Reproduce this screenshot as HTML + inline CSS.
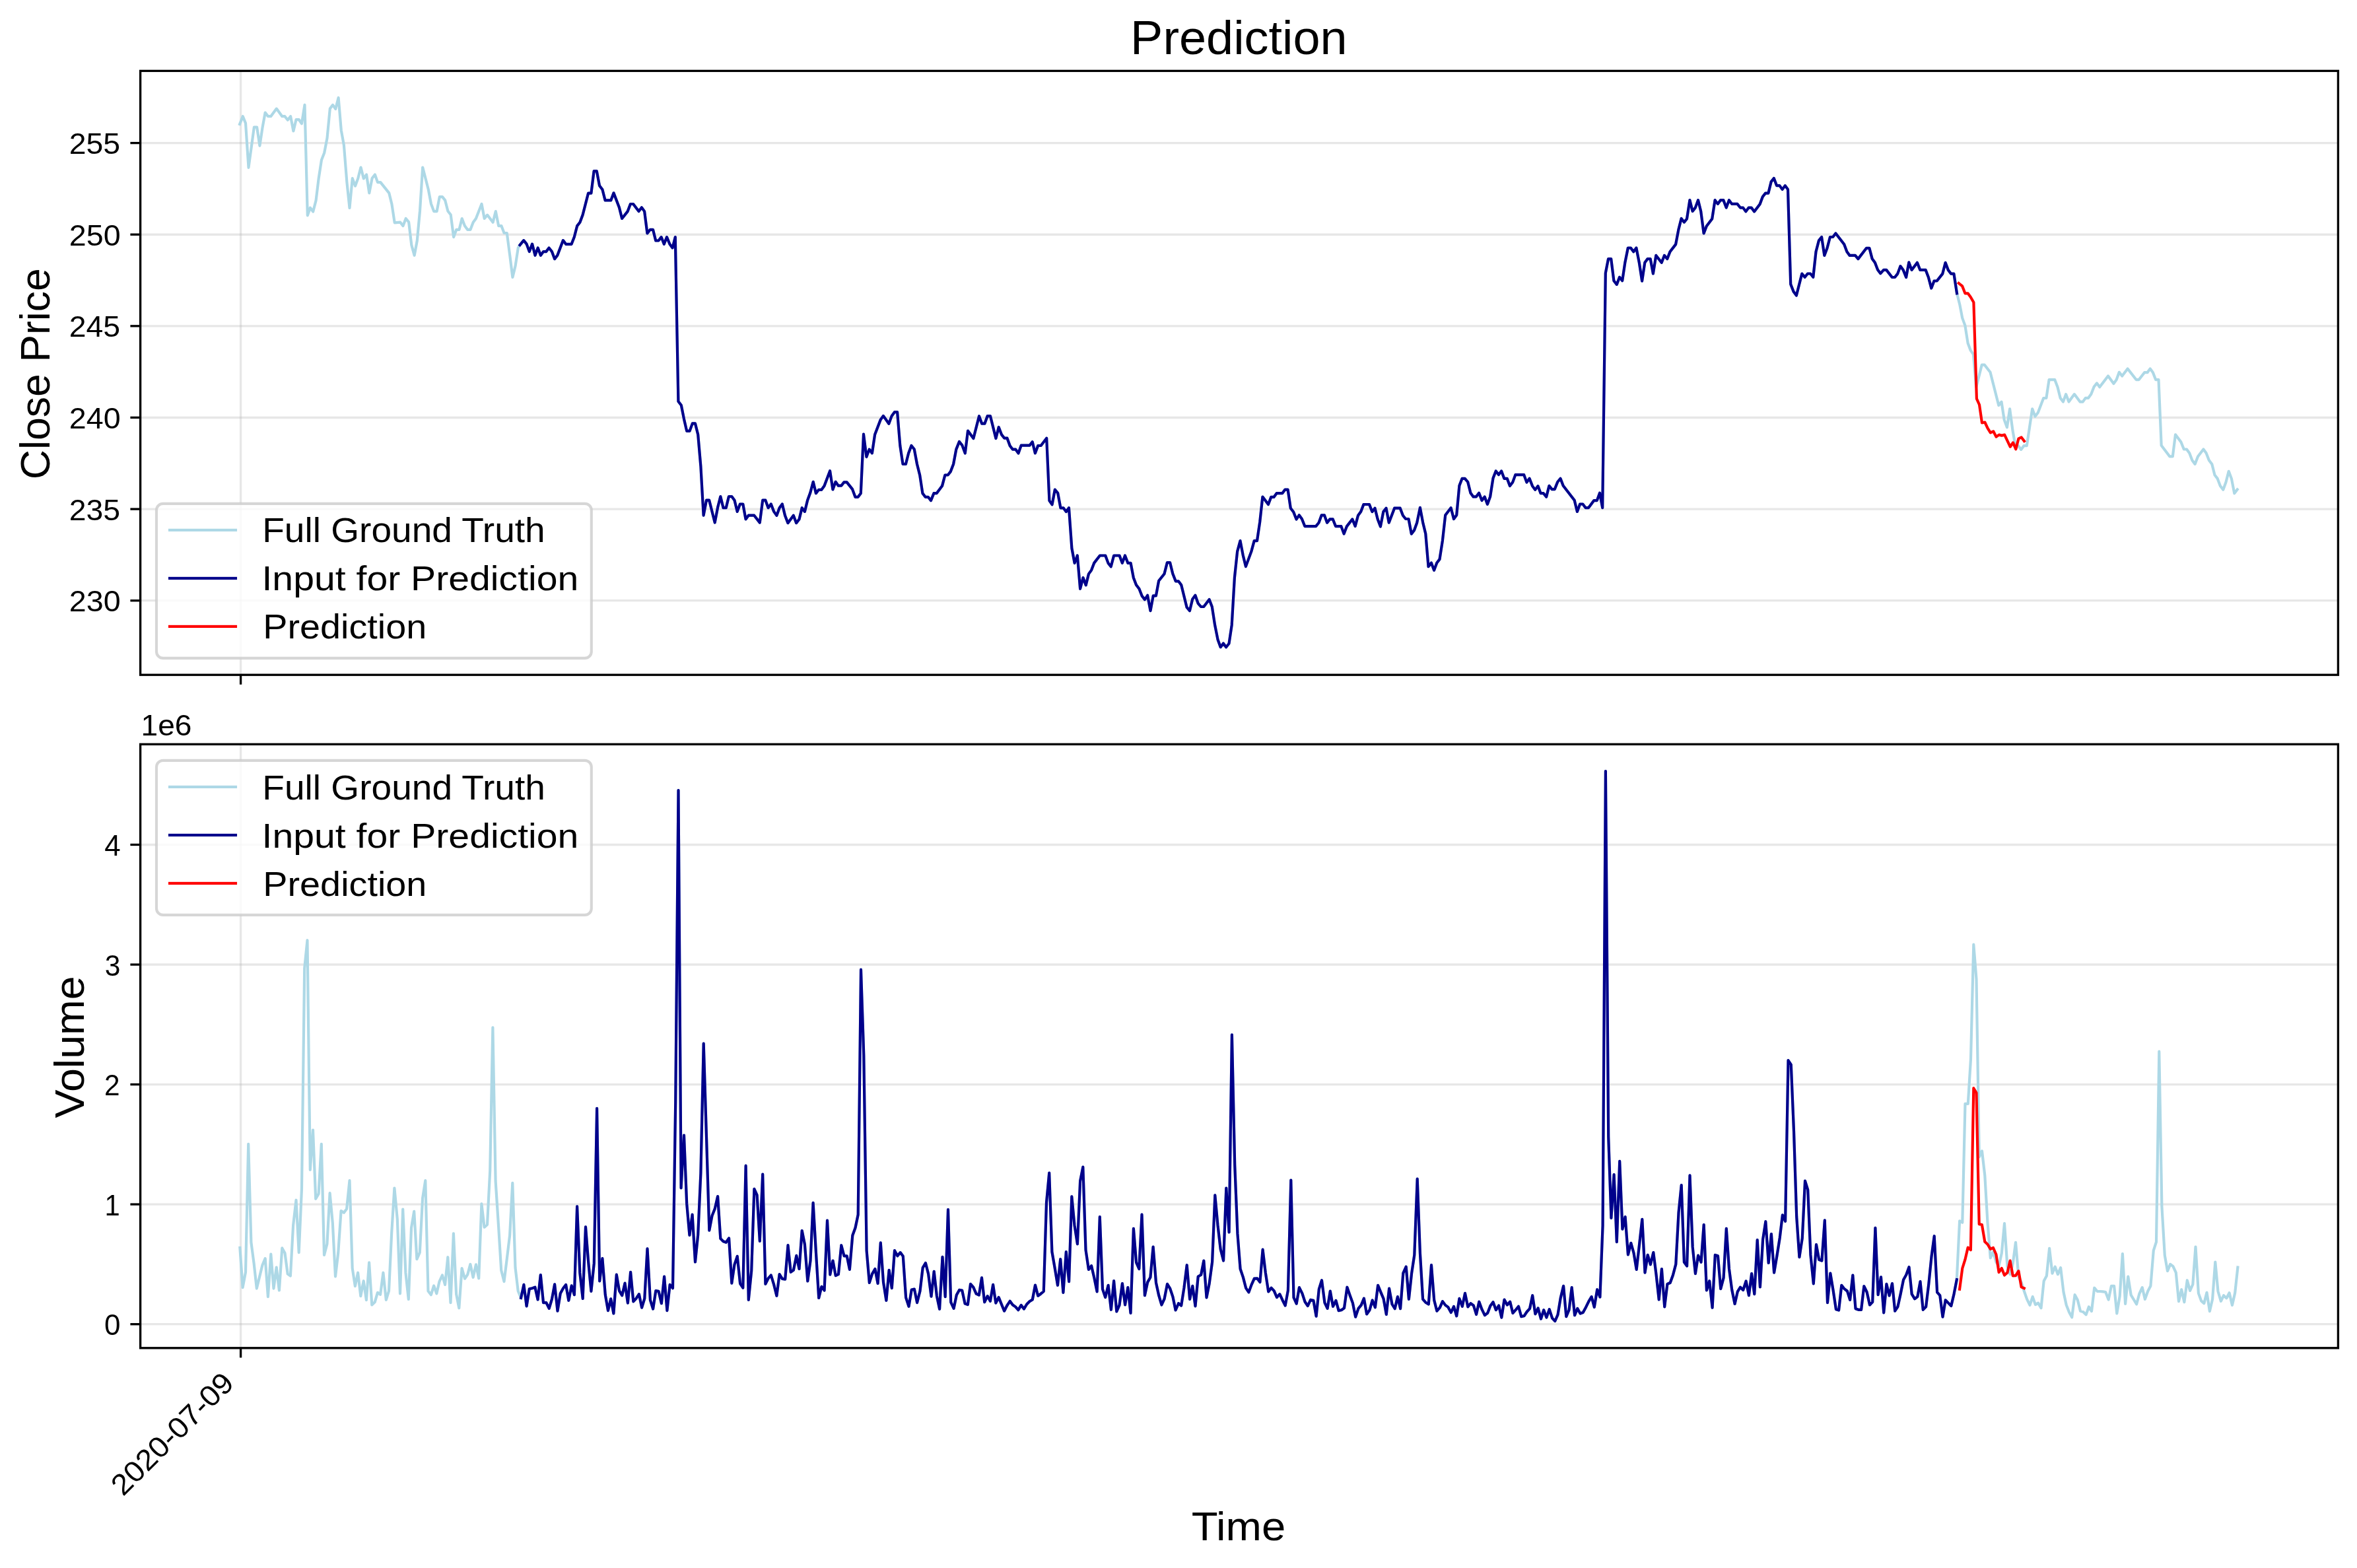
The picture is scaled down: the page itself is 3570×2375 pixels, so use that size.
<!DOCTYPE html>
<html><head><meta charset="utf-8"><title>Prediction</title>
<style>html,body{margin:0;padding:0;background:#fff}svg{display:block;will-change:transform}text{fill:#000}</style></head>
<body>
<svg width="3570" height="2375" viewBox="0 0 3570 2375">
<rect width="3570" height="2375" fill="#fff"/>
<line x1="212.6" x2="3541.4" y1="909.70" y2="909.70" stroke="#b0b0b0" stroke-opacity="0.3" stroke-width="3.33"/>
<line x1="212.6" x2="3541.4" y1="771.08" y2="771.08" stroke="#b0b0b0" stroke-opacity="0.3" stroke-width="3.33"/>
<line x1="212.6" x2="3541.4" y1="632.46" y2="632.46" stroke="#b0b0b0" stroke-opacity="0.3" stroke-width="3.33"/>
<line x1="212.6" x2="3541.4" y1="493.84" y2="493.84" stroke="#b0b0b0" stroke-opacity="0.3" stroke-width="3.33"/>
<line x1="212.6" x2="3541.4" y1="355.22" y2="355.22" stroke="#b0b0b0" stroke-opacity="0.3" stroke-width="3.33"/>
<line x1="212.6" x2="3541.4" y1="216.60" y2="216.60" stroke="#b0b0b0" stroke-opacity="0.3" stroke-width="3.33"/>
<line x1="364.6" x2="364.6" y1="107.4" y2="1022.2" stroke="#b0b0b0" stroke-opacity="0.3" stroke-width="3.33"/>
<clipPath id="c1"><rect x="212.6" y="107.4" width="3328.8" height="914.8000000000001"/></clipPath>
<g clip-path="url(#c1)" fill="none" stroke-width="4.17" stroke-linejoin="round" stroke-linecap="square">
<path d="M363.1 188.1 L367.8 176.2 L372.0 186.6 L376.5 253.8 L384.9 192.5 L389.1 192.5 L393.4 220.8 L397.6 192.8 L401.7 170.5 L406.0 176.2 L410.2 176.2 L418.8 164.6 L427.3 176.2 L431.4 176.2 L435.8 181.7 L440.1 176.2 L444.4 198.5 L448.5 181.2 L452.8 181.2 L457.0 187.2 L461.5 158.9 L465.8 326.3 L469.9 314.7 L474.2 320.6 L478.6 303.5 L482.7 270.1 L487.0 242.2 L491.2 231.5 L495.5 209.2 L499.8 164.6 L504.0 158.9 L508.3 165.0 L512.6 147.9 L516.8 197.3 L520.9 219.9 L525.4 276.1 L529.5 315.0 L533.8 270.1 L538.0 281.7 L542.3 270.1 L546.5 253.5 L550.8 270.4 L555.1 264.5 L559.3 292.4 L563.6 270.1 L567.9 264.5 L572.0 276.1 L576.3 276.1 L589.3 292.4 L593.4 309.0 L597.7 337.3 L606.3 336.7 L610.5 342.1 L614.7 331.0 L619.1 336.3 L623.3 371.1 L627.6 386.8 L631.8 364.5 L636.0 319.5 L640.2 253.5 L648.8 287.0 L653.0 309.0 L657.2 320.1 L661.6 320.1 L665.8 298.1 L670.0 298.1 L674.2 303.4 L678.4 319.7 L682.7 325.2 L687.1 359.1 L691.3 347.8 L695.5 347.8 L699.7 331.0 L703.9 342.1 L708.1 347.8 L712.5 347.8 L716.7 336.7 L720.9 331.0 L729.5 309.0 L733.7 331.0 L738.1 325.6 L746.6 336.7 L750.8 320.1 L755.2 342.1 L759.4 342.1 L763.6 353.0 L767.8 353.0 L772.2 386.5 L776.4 419.9 L780.6 402.7 L784.8 375.4 L787.5 371.1 L787.5 371.1 L793.2 364.1 L797.6 369.6 L801.8 381.1 L806.1 369.6 L810.5 386.8 L814.7 375.4 L818.9 386.8 L823.1 381.1 L827.3 381.1 L831.5 375.4 L835.9 381.1 L840.1 392.2 L844.3 386.8 L852.9 364.1 L857.1 369.8 L865.6 369.8 L869.8 359.1 L874.2 342.1 L878.4 336.7 L882.6 325.6 L891.0 292.7 L895.4 292.7 L899.6 259.2 L903.8 259.2 L908.0 281.2 L912.4 287.0 L916.6 303.4 L925.3 303.4 L929.5 292.3 L937.9 314.3 L942.1 331.0 L950.7 320.1 L954.9 309.0 L959.1 309.0 L967.5 320.1 L971.9 314.3 L976.1 320.1 L980.4 353.4 L984.8 347.8 L989.0 347.8 L993.2 364.5 L997.4 364.5 L1001.6 359.1 L1005.8 369.8 L1010.0 359.1 L1014.4 369.8 L1018.6 375.4 L1022.8 359.1 L1027.4 607.9 L1031.8 613.7 L1036.0 634.7 L1040.2 652.9 L1044.6 652.9 L1048.8 641.4 L1053.0 641.4 L1057.2 658.2 L1061.4 706.5 L1065.6 780.7 L1070.0 757.7 L1074.2 757.7 L1082.7 791.6 L1087.1 768.6 L1091.3 752.0 L1095.5 769.2 L1099.7 769.2 L1103.9 752.0 L1108.3 752.0 L1112.5 757.7 L1116.7 774.9 L1120.9 763.5 L1125.3 763.5 L1129.5 786.4 L1133.7 780.7 L1142.3 780.7 L1150.8 791.6 L1155.2 757.7 L1159.4 757.7 L1163.6 769.2 L1167.8 763.5 L1172.2 774.9 L1176.4 780.7 L1180.6 769.2 L1184.8 763.5 L1189.0 780.7 L1193.4 792.2 L1201.8 780.7 L1206.1 792.2 L1210.5 786.4 L1214.7 769.2 L1218.9 774.9 L1223.1 757.7 L1227.3 746.2 L1231.7 729.8 L1235.9 747.2 L1240.1 741.8 L1244.3 741.8 L1248.5 736.1 L1257.1 713.2 L1261.4 741.5 L1265.6 729.8 L1269.8 735.7 L1274.2 735.7 L1278.4 730.4 L1282.6 730.4 L1291.0 740.9 L1295.4 752.8 L1299.6 752.8 L1303.8 747.2 L1308.0 657.7 L1312.4 692.1 L1316.6 680.6 L1320.9 686.4 L1325.1 658.2 L1333.7 635.7 L1337.9 629.9 L1346.3 641.8 L1350.7 629.9 L1354.9 624.2 L1359.1 624.2 L1363.3 674.9 L1367.5 703.0 L1371.9 703.0 L1376.1 686.4 L1380.4 674.9 L1384.8 680.6 L1389.0 703.0 L1393.2 719.8 L1397.4 747.2 L1401.6 752.8 L1405.8 752.8 L1410.0 758.1 L1414.4 747.2 L1418.6 747.2 L1427.0 736.1 L1431.4 719.5 L1435.7 719.5 L1439.9 714.1 L1444.1 703.0 L1448.3 680.6 L1453.0 668.9 L1457.4 674.6 L1461.8 686.5 L1466.0 652.6 L1474.4 664.1 L1483.0 630.2 L1487.2 641.7 L1491.4 641.7 L1495.6 630.2 L1500.0 630.2 L1508.4 664.1 L1512.7 646.9 L1517.1 658.4 L1521.3 663.7 L1525.5 663.7 L1529.7 675.2 L1533.9 680.7 L1538.3 680.7 L1542.5 686.5 L1546.7 674.6 L1559.5 674.6 L1563.7 669.3 L1567.9 686.5 L1572.2 675.0 L1576.6 675.0 L1585.2 663.7 L1589.4 758.4 L1593.6 764.2 L1597.8 741.6 L1602.2 746.9 L1606.4 769.3 L1610.6 769.3 L1614.8 775.1 L1619.0 769.3 L1623.4 830.5 L1627.6 852.9 L1631.8 841.5 L1636.1 891.8 L1640.5 874.9 L1644.7 886.4 L1648.9 869.4 L1653.1 863.6 L1657.3 852.6 L1665.9 841.5 L1674.3 841.5 L1678.5 852.9 L1682.7 858.3 L1687.1 841.5 L1695.6 841.5 L1699.8 852.9 L1704.0 841.5 L1708.4 852.9 L1712.6 852.9 L1716.8 874.9 L1721.0 886.0 L1725.4 891.8 L1729.7 902.7 L1733.9 908.1 L1738.1 901.8 L1742.5 925.1 L1746.7 902.3 L1750.9 902.3 L1755.1 879.8 L1763.5 869.2 L1767.9 852.0 L1772.1 852.0 L1776.3 868.9 L1780.7 880.3 L1784.9 880.3 L1789.2 886.1 L1797.6 919.9 L1802.0 925.1 L1806.2 907.5 L1810.4 901.8 L1814.6 913.8 L1819.0 919.0 L1823.2 919.0 L1831.6 907.9 L1835.8 919.0 L1840.1 946.7 L1844.5 968.7 L1848.7 980.2 L1852.9 974.5 L1857.1 980.2 L1861.5 974.8 L1865.7 946.7 L1869.9 875.0 L1874.1 835.4 L1878.5 819.1 L1882.7 840.9 L1886.9 858.1 L1895.3 835.4 L1899.7 819.1 L1904.0 819.1 L1908.2 790.8 L1912.4 752.5 L1921.0 764.0 L1925.2 752.9 L1929.4 752.9 L1933.6 747.2 L1942.2 747.2 L1946.4 741.6 L1950.6 741.6 L1954.8 769.7 L1959.2 775.5 L1963.5 786.6 L1967.7 780.3 L1971.9 786.0 L1976.3 797.1 L1993.1 797.1 L1997.5 791.7 L2001.7 780.3 L2005.9 780.3 L2010.1 791.7 L2014.3 786.4 L2018.8 786.4 L2023.0 797.1 L2031.4 797.1 L2035.6 808.6 L2040.0 797.1 L2048.4 786.4 L2052.6 797.1 L2057.0 780.8 L2061.2 775.1 L2065.4 764.0 L2074.0 764.0 L2078.3 775.1 L2082.5 769.7 L2086.7 786.4 L2090.9 797.5 L2095.3 775.1 L2099.5 769.7 L2103.7 791.7 L2112.1 769.7 L2120.7 769.7 L2124.9 780.8 L2129.1 786.0 L2133.5 786.0 L2137.8 808.6 L2142.0 803.2 L2146.2 791.7 L2150.9 768.9 L2155.1 791.2 L2159.3 808.5 L2163.5 858.2 L2167.9 852.5 L2172.1 863.9 L2176.3 852.5 L2180.5 847.1 L2184.9 819.0 L2189.2 780.3 L2197.6 769.2 L2202.0 786.1 L2206.2 780.3 L2210.4 735.4 L2214.6 724.8 L2218.8 724.8 L2223.2 730.0 L2227.4 746.7 L2231.6 752.4 L2235.8 752.4 L2240.1 746.7 L2244.5 758.1 L2248.7 752.4 L2252.9 763.9 L2257.1 752.4 L2261.5 724.3 L2265.7 713.4 L2269.9 719.1 L2274.1 713.4 L2278.3 724.8 L2282.7 724.8 L2286.9 736.1 L2291.1 730.6 L2295.3 719.1 L2308.2 719.1 L2312.4 730.6 L2316.6 724.8 L2321.0 736.1 L2325.2 741.9 L2329.4 736.1 L2333.6 747.2 L2337.8 747.2 L2342.2 752.6 L2346.4 735.8 L2350.6 741.1 L2354.8 741.1 L2359.2 730.0 L2363.5 724.8 L2367.7 735.8 L2384.7 757.8 L2388.9 775.0 L2393.1 763.5 L2397.3 763.5 L2401.7 769.2 L2405.9 769.2 L2414.3 758.1 L2418.8 758.1 L2423.0 746.7 L2427.2 769.2 L2431.8 413.7 L2436.0 392.1 L2440.2 392.1 L2444.4 425.2 L2448.8 430.9 L2453.0 419.8 L2457.2 425.2 L2461.4 397.3 L2465.8 375.5 L2470.0 375.5 L2474.2 381.2 L2478.4 375.5 L2482.7 397.3 L2487.1 425.6 L2491.3 397.8 L2495.5 392.1 L2499.7 392.1 L2503.9 414.5 L2508.3 386.9 L2516.7 397.8 L2520.9 386.9 L2525.3 392.1 L2529.5 381.2 L2538.1 370.1 L2542.3 348.1 L2546.6 330.9 L2550.8 336.6 L2555.0 331.5 L2559.4 303.1 L2563.6 320.0 L2567.8 314.6 L2572.0 303.1 L2576.2 320.0 L2580.6 353.5 L2584.8 342.4 L2593.2 331.5 L2597.6 303.1 L2601.8 308.9 L2606.1 303.1 L2610.3 303.1 L2614.7 314.6 L2618.9 303.1 L2623.1 308.9 L2631.5 308.9 L2635.9 314.6 L2640.1 314.6 L2644.3 320.4 L2648.5 314.6 L2652.7 314.6 L2657.1 320.4 L2665.6 309.3 L2669.8 298.0 L2674.0 292.6 L2678.4 292.6 L2682.6 275.4 L2686.8 270.0 L2691.0 281.1 L2695.4 281.1 L2699.6 286.9 L2703.8 281.1 L2708.0 286.9 L2712.2 430.4 L2716.6 441.8 L2720.9 447.6 L2729.3 414.5 L2733.7 419.8 L2737.9 414.5 L2742.1 414.5 L2746.3 419.8 L2750.5 381.2 L2754.9 364.4 L2759.1 359.0 L2763.3 386.9 L2767.5 375.8 L2771.9 359.0 L2776.1 359.0 L2780.4 353.5 L2793.2 370.1 L2797.4 381.2 L2801.6 386.9 L2810.0 386.9 L2814.4 392.1 L2827.0 375.8 L2831.4 375.8 L2835.7 392.1 L2839.9 397.8 L2844.1 408.8 L2848.3 414.1 L2853.0 408.9 L2857.2 408.9 L2865.8 420.0 L2870.0 420.0 L2874.2 414.6 L2878.4 403.1 L2882.7 408.9 L2887.1 420.0 L2891.3 397.4 L2895.5 408.9 L2903.9 397.8 L2908.3 408.9 L2916.7 408.9 L2920.9 420.0 L2925.3 436.6 L2929.5 425.5 L2933.7 425.5 L2942.3 414.6 L2946.6 397.8 L2950.8 408.9 L2955.0 414.6 L2959.4 414.6 L2964.0 444.3 L2964.0 444.3 L2968.2 460.9 L2972.2 481.6 L2976.4 493.1 L2980.6 519.8 L2984.8 530.9 L2989.0 536.7 L2993.2 586.2 L2997.4 569.9 L3001.7 552.7 L3005.9 552.7 L3014.5 563.8 L3027.3 613.9 L3031.5 608.6 L3035.7 635.9 L3039.9 647.4 L3044.1 619.3 L3048.5 652.2 L3052.7 676.1 L3057.0 675.2 L3061.2 680.9 L3065.4 675.2 L3069.8 675.2 L3074.0 647.4 L3078.2 619.3 L3082.4 630.8 L3086.8 625.0 L3095.2 603.0 L3099.4 603.0 L3103.6 575.1 L3112.2 575.1 L3116.5 586.2 L3120.7 603.0 L3124.9 608.6 L3129.1 597.1 L3133.5 608.6 L3141.9 597.1 L3150.5 608.6 L3154.7 608.6 L3158.9 602.8 L3163.1 602.8 L3167.3 597.1 L3171.7 585.8 L3176.0 580.4 L3180.2 586.2 L3193.0 569.5 L3201.4 581.0 L3205.6 575.3 L3209.8 563.8 L3214.2 569.5 L3222.6 558.4 L3235.5 575.1 L3239.7 575.1 L3248.1 564.2 L3252.5 564.2 L3256.7 558.4 L3260.9 564.2 L3265.1 575.1 L3269.5 575.1 L3273.7 674.8 L3286.4 691.4 L3290.8 691.4 L3295.0 658.3 L3303.4 669.4 L3307.8 680.5 L3312.0 680.5 L3316.2 686.2 L3320.4 697.2 L3324.6 702.9 L3329.0 691.4 L3337.4 680.5 L3341.6 686.2 L3345.9 697.2 L3350.3 702.9 L3354.5 719.5 L3358.7 724.9 L3362.9 736.0 L3367.3 741.7 L3371.5 730.3 L3375.7 713.8 L3379.9 724.9 L3384.3 747.3 L3388.7 741.5" stroke="#add8e6"/>
<path d="M787.5 371.1 L793.2 364.1 L797.6 369.6 L801.8 381.1 L806.1 369.6 L810.5 386.8 L814.7 375.4 L818.9 386.8 L823.1 381.1 L827.3 381.1 L831.5 375.4 L835.9 381.1 L840.1 392.2 L844.3 386.8 L852.9 364.1 L857.1 369.8 L865.6 369.8 L869.8 359.1 L874.2 342.1 L878.4 336.7 L882.6 325.6 L891.0 292.7 L895.4 292.7 L899.6 259.2 L903.8 259.2 L908.0 281.2 L912.4 287.0 L916.6 303.4 L925.3 303.4 L929.5 292.3 L937.9 314.3 L942.1 331.0 L950.7 320.1 L954.9 309.0 L959.1 309.0 L967.5 320.1 L971.9 314.3 L976.1 320.1 L980.4 353.4 L984.8 347.8 L989.0 347.8 L993.2 364.5 L997.4 364.5 L1001.6 359.1 L1005.8 369.8 L1010.0 359.1 L1014.4 369.8 L1018.6 375.4 L1022.8 359.1 L1027.4 607.9 L1031.8 613.7 L1036.0 634.7 L1040.2 652.9 L1044.6 652.9 L1048.8 641.4 L1053.0 641.4 L1057.2 658.2 L1061.4 706.5 L1065.6 780.7 L1070.0 757.7 L1074.2 757.7 L1082.7 791.6 L1087.1 768.6 L1091.3 752.0 L1095.5 769.2 L1099.7 769.2 L1103.9 752.0 L1108.3 752.0 L1112.5 757.7 L1116.7 774.9 L1120.9 763.5 L1125.3 763.5 L1129.5 786.4 L1133.7 780.7 L1142.3 780.7 L1150.8 791.6 L1155.2 757.7 L1159.4 757.7 L1163.6 769.2 L1167.8 763.5 L1172.2 774.9 L1176.4 780.7 L1180.6 769.2 L1184.8 763.5 L1189.0 780.7 L1193.4 792.2 L1201.8 780.7 L1206.1 792.2 L1210.5 786.4 L1214.7 769.2 L1218.9 774.9 L1223.1 757.7 L1227.3 746.2 L1231.7 729.8 L1235.9 747.2 L1240.1 741.8 L1244.3 741.8 L1248.5 736.1 L1257.1 713.2 L1261.4 741.5 L1265.6 729.8 L1269.8 735.7 L1274.2 735.7 L1278.4 730.4 L1282.6 730.4 L1291.0 740.9 L1295.4 752.8 L1299.6 752.8 L1303.8 747.2 L1308.0 657.7 L1312.4 692.1 L1316.6 680.6 L1320.9 686.4 L1325.1 658.2 L1333.7 635.7 L1337.9 629.9 L1346.3 641.8 L1350.7 629.9 L1354.9 624.2 L1359.1 624.2 L1363.3 674.9 L1367.5 703.0 L1371.9 703.0 L1376.1 686.4 L1380.4 674.9 L1384.8 680.6 L1389.0 703.0 L1393.2 719.8 L1397.4 747.2 L1401.6 752.8 L1405.8 752.8 L1410.0 758.1 L1414.4 747.2 L1418.6 747.2 L1427.0 736.1 L1431.4 719.5 L1435.7 719.5 L1439.9 714.1 L1444.1 703.0 L1448.3 680.6 L1453.0 668.9 L1457.4 674.6 L1461.8 686.5 L1466.0 652.6 L1474.4 664.1 L1483.0 630.2 L1487.2 641.7 L1491.4 641.7 L1495.6 630.2 L1500.0 630.2 L1508.4 664.1 L1512.7 646.9 L1517.1 658.4 L1521.3 663.7 L1525.5 663.7 L1529.7 675.2 L1533.9 680.7 L1538.3 680.7 L1542.5 686.5 L1546.7 674.6 L1559.5 674.6 L1563.7 669.3 L1567.9 686.5 L1572.2 675.0 L1576.6 675.0 L1585.2 663.7 L1589.4 758.4 L1593.6 764.2 L1597.8 741.6 L1602.2 746.9 L1606.4 769.3 L1610.6 769.3 L1614.8 775.1 L1619.0 769.3 L1623.4 830.5 L1627.6 852.9 L1631.8 841.5 L1636.1 891.8 L1640.5 874.9 L1644.7 886.4 L1648.9 869.4 L1653.1 863.6 L1657.3 852.6 L1665.9 841.5 L1674.3 841.5 L1678.5 852.9 L1682.7 858.3 L1687.1 841.5 L1695.6 841.5 L1699.8 852.9 L1704.0 841.5 L1708.4 852.9 L1712.6 852.9 L1716.8 874.9 L1721.0 886.0 L1725.4 891.8 L1729.7 902.7 L1733.9 908.1 L1738.1 901.8 L1742.5 925.1 L1746.7 902.3 L1750.9 902.3 L1755.1 879.8 L1763.5 869.2 L1767.9 852.0 L1772.1 852.0 L1776.3 868.9 L1780.7 880.3 L1784.9 880.3 L1789.2 886.1 L1797.6 919.9 L1802.0 925.1 L1806.2 907.5 L1810.4 901.8 L1814.6 913.8 L1819.0 919.0 L1823.2 919.0 L1831.6 907.9 L1835.8 919.0 L1840.1 946.7 L1844.5 968.7 L1848.7 980.2 L1852.9 974.5 L1857.1 980.2 L1861.5 974.8 L1865.7 946.7 L1869.9 875.0 L1874.1 835.4 L1878.5 819.1 L1882.7 840.9 L1886.9 858.1 L1895.3 835.4 L1899.7 819.1 L1904.0 819.1 L1908.2 790.8 L1912.4 752.5 L1921.0 764.0 L1925.2 752.9 L1929.4 752.9 L1933.6 747.2 L1942.2 747.2 L1946.4 741.6 L1950.6 741.6 L1954.8 769.7 L1959.2 775.5 L1963.5 786.6 L1967.7 780.3 L1971.9 786.0 L1976.3 797.1 L1993.1 797.1 L1997.5 791.7 L2001.7 780.3 L2005.9 780.3 L2010.1 791.7 L2014.3 786.4 L2018.8 786.4 L2023.0 797.1 L2031.4 797.1 L2035.6 808.6 L2040.0 797.1 L2048.4 786.4 L2052.6 797.1 L2057.0 780.8 L2061.2 775.1 L2065.4 764.0 L2074.0 764.0 L2078.3 775.1 L2082.5 769.7 L2086.7 786.4 L2090.9 797.5 L2095.3 775.1 L2099.5 769.7 L2103.7 791.7 L2112.1 769.7 L2120.7 769.7 L2124.9 780.8 L2129.1 786.0 L2133.5 786.0 L2137.8 808.6 L2142.0 803.2 L2146.2 791.7 L2150.9 768.9 L2155.1 791.2 L2159.3 808.5 L2163.5 858.2 L2167.9 852.5 L2172.1 863.9 L2176.3 852.5 L2180.5 847.1 L2184.9 819.0 L2189.2 780.3 L2197.6 769.2 L2202.0 786.1 L2206.2 780.3 L2210.4 735.4 L2214.6 724.8 L2218.8 724.8 L2223.2 730.0 L2227.4 746.7 L2231.6 752.4 L2235.8 752.4 L2240.1 746.7 L2244.5 758.1 L2248.7 752.4 L2252.9 763.9 L2257.1 752.4 L2261.5 724.3 L2265.7 713.4 L2269.9 719.1 L2274.1 713.4 L2278.3 724.8 L2282.7 724.8 L2286.9 736.1 L2291.1 730.6 L2295.3 719.1 L2308.2 719.1 L2312.4 730.6 L2316.6 724.8 L2321.0 736.1 L2325.2 741.9 L2329.4 736.1 L2333.6 747.2 L2337.8 747.2 L2342.2 752.6 L2346.4 735.8 L2350.6 741.1 L2354.8 741.1 L2359.2 730.0 L2363.5 724.8 L2367.7 735.8 L2384.7 757.8 L2388.9 775.0 L2393.1 763.5 L2397.3 763.5 L2401.7 769.2 L2405.9 769.2 L2414.3 758.1 L2418.8 758.1 L2423.0 746.7 L2427.2 769.2 L2431.8 413.7 L2436.0 392.1 L2440.2 392.1 L2444.4 425.2 L2448.8 430.9 L2453.0 419.8 L2457.2 425.2 L2461.4 397.3 L2465.8 375.5 L2470.0 375.5 L2474.2 381.2 L2478.4 375.5 L2482.7 397.3 L2487.1 425.6 L2491.3 397.8 L2495.5 392.1 L2499.7 392.1 L2503.9 414.5 L2508.3 386.9 L2516.7 397.8 L2520.9 386.9 L2525.3 392.1 L2529.5 381.2 L2538.1 370.1 L2542.3 348.1 L2546.6 330.9 L2550.8 336.6 L2555.0 331.5 L2559.4 303.1 L2563.6 320.0 L2567.8 314.6 L2572.0 303.1 L2576.2 320.0 L2580.6 353.5 L2584.8 342.4 L2593.2 331.5 L2597.6 303.1 L2601.8 308.9 L2606.1 303.1 L2610.3 303.1 L2614.7 314.6 L2618.9 303.1 L2623.1 308.9 L2631.5 308.9 L2635.9 314.6 L2640.1 314.6 L2644.3 320.4 L2648.5 314.6 L2652.7 314.6 L2657.1 320.4 L2665.6 309.3 L2669.8 298.0 L2674.0 292.6 L2678.4 292.6 L2682.6 275.4 L2686.8 270.0 L2691.0 281.1 L2695.4 281.1 L2699.6 286.9 L2703.8 281.1 L2708.0 286.9 L2712.2 430.4 L2716.6 441.8 L2720.9 447.6 L2729.3 414.5 L2733.7 419.8 L2737.9 414.5 L2742.1 414.5 L2746.3 419.8 L2750.5 381.2 L2754.9 364.4 L2759.1 359.0 L2763.3 386.9 L2767.5 375.8 L2771.9 359.0 L2776.1 359.0 L2780.4 353.5 L2793.2 370.1 L2797.4 381.2 L2801.6 386.9 L2810.0 386.9 L2814.4 392.1 L2827.0 375.8 L2831.4 375.8 L2835.7 392.1 L2839.9 397.8 L2844.1 408.8 L2848.3 414.1 L2853.0 408.9 L2857.2 408.9 L2865.8 420.0 L2870.0 420.0 L2874.2 414.6 L2878.4 403.1 L2882.7 408.9 L2887.1 420.0 L2891.3 397.4 L2895.5 408.9 L2903.9 397.8 L2908.3 408.9 L2916.7 408.9 L2920.9 420.0 L2925.3 436.6 L2929.5 425.5 L2933.7 425.5 L2942.3 414.6 L2946.6 397.8 L2950.8 408.9 L2955.0 414.6 L2959.4 414.6 L2964.0 444.3" stroke="#00008b"/>
<path d="M2966.8 429.0 L2972.2 433.4 L2976.4 444.3 L2980.6 444.3 L2984.8 450.0 L2989.4 458.0 L2993.9 603.8 L2998.0 613.0 L3002.0 640.5 L3006.3 639.5 L3010.6 648.7 L3014.8 655.3 L3019.2 653.3 L3023.5 661.6 L3027.8 658.6 L3031.9 659.6 L3036.2 658.6 L3044.7 676.7 L3049.0 670.4 L3053.3 680.3 L3057.4 664.3 L3061.7 662.4 L3066.0 668.1" stroke="#ff0000"/>
</g>
<line x1="212.6" x2="3541.4" y1="2005.70" y2="2005.70" stroke="#b0b0b0" stroke-opacity="0.3" stroke-width="3.33"/>
<line x1="212.6" x2="3541.4" y1="1824.14" y2="1824.14" stroke="#b0b0b0" stroke-opacity="0.3" stroke-width="3.33"/>
<line x1="212.6" x2="3541.4" y1="1642.58" y2="1642.58" stroke="#b0b0b0" stroke-opacity="0.3" stroke-width="3.33"/>
<line x1="212.6" x2="3541.4" y1="1461.02" y2="1461.02" stroke="#b0b0b0" stroke-opacity="0.3" stroke-width="3.33"/>
<line x1="212.6" x2="3541.4" y1="1279.46" y2="1279.46" stroke="#b0b0b0" stroke-opacity="0.3" stroke-width="3.33"/>
<line x1="364.6" x2="364.6" y1="1127.3" y2="2041.8" stroke="#b0b0b0" stroke-opacity="0.3" stroke-width="3.33"/>
<clipPath id="c2"><rect x="212.6" y="1127.3" width="3328.8" height="914.5"/></clipPath>
<g clip-path="url(#c2)" fill="none" stroke-width="4.17" stroke-linejoin="round" stroke-linecap="square">
<path d="M363.4 1890.0 L367.6 1950.1 L372.0 1926.8 L376.2 1732.8 L380.4 1881.8 L384.6 1913.4 L388.8 1951.6 L393.2 1933.5 L397.4 1916.2 L401.7 1906.1 L405.9 1964.1 L410.3 1899.6 L414.5 1951.6 L418.7 1919.5 L422.9 1954.5 L427.3 1890.4 L431.5 1898.1 L435.7 1929.6 L439.9 1932.5 L444.1 1856.0 L448.5 1817.7 L452.7 1897.1 L457.0 1800.5 L461.2 1466.8 L465.5 1424.2 L469.8 1771.9 L474.0 1711.7 L478.2 1815.8 L482.6 1808.1 L486.8 1732.9 L491.0 1900.9 L495.4 1884.3 L499.6 1807.2 L503.8 1852.1 L508.0 1933.5 L512.2 1898.1 L516.6 1834.0 L520.9 1836.8 L525.1 1831.1 L529.5 1788.0 L533.7 1921.0 L537.9 1948.2 L542.1 1927.7 L546.3 1963.1 L550.7 1940.2 L554.9 1969.2 L559.1 1912.4 L563.3 1976.5 L567.7 1972.3 L571.9 1957.8 L576.1 1960.8 L580.4 1927.7 L584.8 1968.9 L589.0 1955.5 L593.2 1867.4 L597.4 1799.5 L601.8 1846.4 L606.0 1959.3 L610.2 1831.5 L614.4 1927.7 L618.8 1967.9 L623.0 1859.8 L627.2 1834.9 L631.4 1907.2 L635.8 1897.1 L640.1 1814.8 L644.3 1788.0 L648.5 1955.5 L652.9 1961.2 L657.1 1947.4 L661.3 1959.3 L665.5 1941.1 L669.9 1931.5 L674.1 1945.9 L678.3 1904.2 L682.5 1973.1 L686.9 1868.4 L691.1 1960.2 L695.3 1981.3 L699.6 1921.0 L704.0 1936.7 L708.2 1930.6 L712.4 1914.9 L716.6 1934.8 L721.0 1915.3 L725.2 1936.3 L729.4 1823.4 L733.6 1858.8 L738.0 1855.0 L742.2 1773.7 L746.4 1556.4 L750.6 1789.0 L755.0 1856.0 L759.2 1923.9 L763.5 1941.1 L767.7 1907.6 L772.1 1871.3 L776.3 1791.9 L780.5 1920.1 L784.7 1955.5 L789.1 1966.0 L789.1 1966.0 L793.4 1945.9 L797.6 1978.4 L801.8 1952.2 L806.2 1951.2 L810.4 1949.7 L814.6 1968.5 L818.8 1931.0 L823.0 1973.1 L827.4 1973.1 L831.7 1981.9 L835.9 1967.9 L840.1 1945.3 L844.5 1985.7 L848.7 1959.3 L852.9 1951.6 L857.1 1945.9 L861.3 1969.8 L865.7 1947.4 L869.9 1961.2 L874.1 1827.3 L878.3 1927.7 L882.7 1966.9 L887.0 1858.3 L891.2 1911.8 L895.4 1955.8 L899.8 1913.4 L904.1 1678.8 L908.2 1940.5 L912.4 1906.1 L916.8 1961.2 L921.0 1985.1 L925.2 1967.3 L929.4 1989.5 L933.8 1930.6 L938.0 1955.1 L942.2 1962.2 L946.5 1943.6 L950.9 1973.6 L955.1 1926.8 L959.3 1971.3 L963.5 1966.9 L967.9 1960.2 L972.1 1980.7 L976.3 1966.9 L980.5 1891.4 L984.9 1969.2 L989.1 1982.6 L993.3 1955.1 L997.5 1955.8 L1001.9 1974.2 L1006.1 1933.5 L1010.4 1985.1 L1014.6 1945.9 L1019.0 1951.2 L1023.2 1670.0 L1027.5 1197.0 L1031.6 1799.5 L1036.0 1719.6 L1040.2 1823.4 L1044.4 1870.9 L1048.6 1839.7 L1053.0 1911.5 L1057.2 1870.3 L1061.4 1777.0 L1065.7 1580.5 L1070.1 1724.9 L1074.3 1863.6 L1078.5 1841.6 L1082.7 1831.1 L1087.1 1812.0 L1091.3 1876.1 L1095.5 1880.3 L1099.7 1881.8 L1104.1 1875.5 L1108.3 1943.6 L1112.5 1915.3 L1116.7 1902.8 L1121.1 1944.4 L1125.3 1950.7 L1129.6 1765.7 L1133.8 1968.9 L1138.2 1924.8 L1142.4 1800.9 L1146.6 1810.1 L1150.8 1879.9 L1155.2 1778.5 L1159.4 1944.9 L1163.6 1936.3 L1167.8 1931.5 L1172.2 1945.9 L1176.4 1962.7 L1180.6 1930.0 L1184.8 1936.9 L1189.2 1937.7 L1193.5 1886.2 L1197.7 1926.8 L1201.9 1923.9 L1206.3 1901.9 L1210.5 1922.0 L1214.7 1864.0 L1218.9 1884.7 L1223.3 1940.5 L1227.5 1909.5 L1231.6 1821.9 L1236.0 1898.1 L1240.2 1966.0 L1244.4 1948.8 L1248.6 1954.5 L1253.0 1848.7 L1257.3 1930.6 L1261.5 1909.5 L1265.7 1932.1 L1269.9 1930.2 L1274.3 1886.2 L1278.5 1902.3 L1282.7 1902.3 L1286.9 1922.9 L1291.3 1871.3 L1295.5 1859.8 L1299.7 1839.7 L1304.0 1468.7 L1308.3 1598.3 L1312.6 1894.2 L1316.8 1943.0 L1321.0 1929.6 L1325.4 1922.0 L1329.6 1944.0 L1333.8 1882.4 L1338.0 1942.1 L1342.4 1969.8 L1346.6 1923.9 L1350.8 1951.2 L1355.0 1894.2 L1359.4 1902.3 L1363.6 1897.1 L1367.8 1902.8 L1372.1 1965.4 L1376.5 1978.8 L1380.7 1953.5 L1384.9 1952.6 L1389.1 1973.1 L1393.5 1955.5 L1397.7 1920.1 L1401.9 1913.0 L1406.1 1929.6 L1410.5 1963.7 L1414.7 1925.8 L1418.9 1963.1 L1423.1 1982.8 L1427.5 1903.8 L1431.7 1964.1 L1436.0 1832.1 L1440.2 1972.3 L1444.6 1981.9 L1448.8 1961.6 L1453.0 1953.9 L1457.2 1954.5 L1461.6 1974.6 L1465.8 1976.1 L1470.0 1944.9 L1474.2 1949.7 L1478.6 1959.7 L1482.8 1961.6 L1487.0 1935.4 L1491.2 1972.3 L1495.7 1963.1 L1499.9 1970.8 L1504.1 1945.9 L1508.3 1973.6 L1512.7 1965.0 L1516.9 1975.5 L1521.1 1985.7 L1525.3 1977.5 L1529.7 1970.8 L1533.9 1976.5 L1538.1 1979.4 L1542.3 1984.2 L1546.7 1976.9 L1550.9 1982.6 L1555.2 1975.5 L1559.4 1971.3 L1563.8 1968.5 L1568.0 1946.5 L1572.2 1962.7 L1576.4 1959.7 L1580.8 1956.0 L1585.0 1821.5 L1589.2 1776.6 L1593.4 1896.1 L1597.8 1921.4 L1602.0 1946.8 L1606.2 1907.2 L1610.4 1957.9 L1614.8 1896.1 L1619.1 1941.1 L1623.3 1812.3 L1627.5 1856.0 L1631.9 1884.3 L1636.1 1789.0 L1640.3 1767.6 L1644.5 1893.3 L1648.9 1922.9 L1653.1 1917.2 L1657.3 1935.4 L1661.6 1956.4 L1665.8 1843.0 L1670.0 1952.6 L1674.2 1965.0 L1678.6 1946.8 L1682.9 1983.8 L1687.1 1940.2 L1691.3 1986.5 L1695.5 1976.9 L1699.9 1944.0 L1704.1 1976.5 L1708.3 1950.1 L1712.5 1988.9 L1716.9 1860.8 L1721.1 1912.4 L1725.3 1922.0 L1729.5 1839.7 L1733.9 1962.2 L1738.2 1942.1 L1742.4 1934.8 L1746.6 1888.5 L1751.0 1943.0 L1755.2 1962.2 L1759.4 1976.5 L1763.6 1967.3 L1768.0 1944.9 L1772.2 1951.6 L1776.4 1964.1 L1780.6 1984.5 L1785.0 1974.2 L1789.2 1977.5 L1793.4 1950.7 L1797.7 1916.2 L1802.1 1967.9 L1806.3 1947.8 L1810.5 1978.4 L1814.7 1933.5 L1819.1 1931.0 L1823.3 1909.5 L1827.5 1965.4 L1831.7 1944.0 L1836.1 1911.5 L1840.3 1810.4 L1844.5 1856.0 L1848.7 1892.3 L1853.1 1909.5 L1857.3 1799.5 L1861.6 1866.5 L1865.9 1567.4 L1870.2 1764.1 L1874.4 1868.4 L1878.6 1922.0 L1882.8 1934.4 L1887.2 1951.2 L1891.4 1957.4 L1895.6 1945.9 L1899.8 1936.7 L1904.2 1936.3 L1908.4 1942.1 L1912.6 1892.7 L1916.8 1927.7 L1921.2 1956.4 L1925.5 1950.7 L1929.7 1955.1 L1933.9 1965.0 L1938.3 1960.2 L1942.5 1969.2 L1946.7 1977.5 L1950.9 1954.5 L1955.3 1787.5 L1959.5 1965.4 L1963.7 1974.6 L1967.9 1950.1 L1972.3 1958.9 L1976.5 1971.7 L1980.8 1978.0 L1985.0 1968.9 L1989.4 1969.8 L1993.6 1993.7 L1997.8 1952.6 L2002.0 1939.2 L2006.4 1973.1 L2010.6 1981.9 L2014.8 1955.5 L2019.0 1978.8 L2023.4 1969.8 L2027.6 1985.1 L2031.8 1984.2 L2036.0 1981.3 L2040.4 1949.7 L2044.7 1962.2 L2048.9 1973.6 L2053.1 1994.7 L2057.5 1981.9 L2061.7 1976.9 L2065.9 1966.6 L2070.1 1990.5 L2074.5 1984.2 L2078.7 1969.4 L2082.9 1980.3 L2087.1 1946.8 L2091.4 1957.4 L2095.6 1967.3 L2099.8 1990.9 L2104.1 1951.6 L2108.5 1975.5 L2112.7 1982.2 L2116.9 1964.1 L2121.1 1982.2 L2125.3 1928.3 L2129.7 1918.7 L2133.9 1967.9 L2138.1 1928.7 L2142.3 1900.9 L2146.7 1785.6 L2150.9 1898.1 L2155.1 1967.9 L2159.3 1972.7 L2163.8 1975.5 L2168.0 1916.2 L2172.2 1969.2 L2176.4 1985.7 L2180.8 1980.7 L2185.0 1971.1 L2189.2 1976.9 L2193.4 1979.9 L2197.8 1988.0 L2202.0 1978.8 L2206.2 1993.3 L2210.4 1966.9 L2214.8 1978.8 L2219.0 1958.9 L2223.3 1979.4 L2227.5 1974.2 L2231.9 1977.5 L2236.1 1990.9 L2240.3 1971.7 L2244.5 1983.2 L2248.9 1992.2 L2253.1 1988.9 L2257.3 1978.0 L2261.5 1972.3 L2265.9 1984.2 L2270.1 1977.5 L2274.3 1995.6 L2278.5 1968.5 L2282.9 1976.5 L2287.2 1971.7 L2291.4 1988.9 L2295.6 1984.2 L2300.0 1978.8 L2304.2 1994.1 L2308.4 1993.3 L2312.6 1987.0 L2317.0 1982.2 L2321.2 1962.2 L2325.4 1990.3 L2329.6 1981.3 L2334.0 1997.6 L2338.2 1984.2 L2342.4 1995.6 L2346.7 1983.2 L2351.1 1996.6 L2355.3 2001.0 L2359.5 1991.4 L2363.7 1966.0 L2368.1 1947.8 L2372.3 1994.1 L2376.5 1984.2 L2380.7 1950.1 L2385.1 1992.2 L2389.3 1981.9 L2393.5 1989.5 L2397.7 1988.0 L2402.1 1979.9 L2406.4 1971.1 L2410.6 1964.1 L2414.8 1979.9 L2419.2 1953.2 L2423.4 1964.6 L2427.6 1856.0 L2431.9 1168.0 L2436.2 1721.7 L2440.4 1844.9 L2444.6 1779.1 L2448.8 1881.2 L2453.2 1758.8 L2457.4 1861.7 L2461.6 1843.0 L2465.9 1900.4 L2470.3 1882.8 L2474.5 1897.7 L2478.7 1922.9 L2482.9 1886.2 L2487.3 1846.8 L2491.5 1927.7 L2495.7 1900.9 L2499.9 1915.3 L2504.3 1897.1 L2508.5 1930.2 L2512.7 1968.5 L2516.9 1922.0 L2521.2 1979.4 L2525.4 1944.9 L2529.7 1943.0 L2533.9 1931.5 L2538.3 1914.9 L2542.5 1836.8 L2546.7 1795.1 L2550.9 1911.8 L2555.1 1917.6 L2559.5 1780.4 L2563.7 1888.9 L2567.9 1929.1 L2572.1 1901.5 L2576.5 1911.8 L2580.7 1855.0 L2584.9 1954.5 L2589.2 1940.2 L2593.6 1980.7 L2597.8 1900.9 L2602.0 1902.3 L2606.2 1952.2 L2610.6 1935.4 L2614.8 1860.8 L2619.0 1922.0 L2623.2 1953.5 L2627.6 1975.0 L2631.8 1956.4 L2636.0 1949.7 L2640.2 1954.1 L2644.6 1940.5 L2648.9 1962.2 L2653.1 1929.1 L2657.3 1960.2 L2661.7 1878.0 L2665.9 1949.3 L2670.1 1877.4 L2674.3 1850.2 L2678.7 1913.0 L2682.9 1869.0 L2687.1 1927.7 L2691.3 1902.8 L2695.7 1875.1 L2699.9 1840.3 L2704.1 1849.8 L2708.5 1606.1 L2712.8 1612.6 L2717.0 1713.2 L2721.2 1843.0 L2725.4 1904.2 L2729.8 1875.5 L2734.0 1788.6 L2738.2 1802.0 L2742.4 1900.9 L2746.8 1944.4 L2751.0 1885.1 L2755.2 1908.0 L2759.4 1909.5 L2763.8 1848.3 L2768.0 1973.1 L2772.3 1928.7 L2776.5 1953.9 L2780.9 1983.2 L2785.1 1984.5 L2789.3 1946.8 L2793.5 1952.2 L2797.9 1955.5 L2802.1 1968.9 L2806.3 1931.5 L2810.5 1982.2 L2814.9 1983.8 L2819.1 1983.8 L2823.3 1948.2 L2827.6 1957.0 L2832.0 1976.5 L2836.2 1972.1 L2840.4 1859.8 L2844.6 1961.2 L2849.0 1934.4 L2853.2 1988.4 L2857.4 1944.9 L2861.6 1962.5 L2866.0 1944.0 L2870.2 1985.7 L2874.4 1979.4 L2878.6 1960.2 L2883.0 1938.6 L2887.2 1931.0 L2891.5 1919.1 L2895.7 1960.2 L2900.1 1967.3 L2904.3 1964.1 L2908.5 1941.1 L2912.7 1983.8 L2917.1 1979.4 L2921.3 1944.9 L2925.5 1903.4 L2929.7 1872.2 L2934.1 1957.4 L2938.3 1962.2 L2942.5 1994.7 L2946.7 1969.2 L2951.0 1973.6 L2955.3 1978.0 L2959.5 1960.2 L2963.8 1938.2 L2963.8 1938.2 L2968.1 1849.3 L2972.3 1851.8 L2976.5 1671.9 L2980.8 1671.9 L2985.0 1604.2 L2989.3 1430.7 L2993.5 1483.1 L2997.8 1752.3 L3002.0 1743.5 L3006.3 1780.4 L3010.5 1852.1 L3014.8 1905.3 L3019.0 1896.1 L3023.4 1911.5 L3027.6 1917.6 L3031.8 1898.1 L3036.0 1853.1 L3040.4 1918.2 L3044.6 1930.2 L3048.8 1913.4 L3053.0 1881.8 L3057.4 1933.5 L3061.6 1942.4 L3065.8 1955.5 L3070.1 1967.9 L3074.5 1976.9 L3078.7 1964.1 L3082.9 1976.1 L3087.1 1973.6 L3091.5 1981.3 L3095.7 1940.2 L3099.9 1932.5 L3104.1 1890.8 L3108.5 1928.7 L3112.7 1918.7 L3116.9 1930.2 L3121.1 1920.1 L3125.5 1957.0 L3129.7 1976.5 L3134.0 1987.6 L3138.2 1995.3 L3142.6 1961.2 L3146.8 1968.9 L3151.0 1985.7 L3155.2 1987.0 L3159.6 1991.4 L3163.8 1979.4 L3168.0 1986.1 L3172.2 1950.7 L3176.6 1956.0 L3180.8 1956.0 L3185.0 1956.4 L3189.2 1957.0 L3193.6 1968.5 L3197.9 1947.8 L3202.1 1947.8 L3206.3 1989.5 L3210.7 1963.1 L3214.9 1899.0 L3219.1 1975.0 L3223.3 1933.5 L3227.7 1961.6 L3231.9 1968.5 L3236.1 1975.5 L3240.3 1959.7 L3244.7 1950.1 L3248.9 1967.9 L3253.2 1955.8 L3257.4 1947.8 L3261.8 1894.2 L3266.0 1881.2 L3270.3 1592.7 L3274.4 1827.3 L3278.8 1901.5 L3283.0 1925.2 L3287.2 1914.9 L3291.4 1918.2 L3295.8 1927.7 L3300.0 1971.1 L3304.2 1953.2 L3308.4 1972.3 L3312.8 1939.2 L3317.1 1954.9 L3321.3 1945.5 L3325.5 1888.5 L3329.9 1958.9 L3334.1 1970.4 L3338.3 1974.2 L3342.5 1957.8 L3346.9 1986.1 L3351.1 1967.9 L3355.3 1911.5 L3359.5 1956.0 L3363.9 1970.8 L3368.1 1962.2 L3372.3 1966.4 L3376.6 1958.3 L3381.0 1976.9 L3385.2 1958.3 L3389.4 1919.5" stroke="#add8e6"/>
<path d="M789.1 1966.0 L793.4 1945.9 L797.6 1978.4 L801.8 1952.2 L806.2 1951.2 L810.4 1949.7 L814.6 1968.5 L818.8 1931.0 L823.0 1973.1 L827.4 1973.1 L831.7 1981.9 L835.9 1967.9 L840.1 1945.3 L844.5 1985.7 L848.7 1959.3 L852.9 1951.6 L857.1 1945.9 L861.3 1969.8 L865.7 1947.4 L869.9 1961.2 L874.1 1827.3 L878.3 1927.7 L882.7 1966.9 L887.0 1858.3 L891.2 1911.8 L895.4 1955.8 L899.8 1913.4 L904.1 1678.8 L908.2 1940.5 L912.4 1906.1 L916.8 1961.2 L921.0 1985.1 L925.2 1967.3 L929.4 1989.5 L933.8 1930.6 L938.0 1955.1 L942.2 1962.2 L946.5 1943.6 L950.9 1973.6 L955.1 1926.8 L959.3 1971.3 L963.5 1966.9 L967.9 1960.2 L972.1 1980.7 L976.3 1966.9 L980.5 1891.4 L984.9 1969.2 L989.1 1982.6 L993.3 1955.1 L997.5 1955.8 L1001.9 1974.2 L1006.1 1933.5 L1010.4 1985.1 L1014.6 1945.9 L1019.0 1951.2 L1023.2 1670.0 L1027.5 1197.0 L1031.6 1799.5 L1036.0 1719.6 L1040.2 1823.4 L1044.4 1870.9 L1048.6 1839.7 L1053.0 1911.5 L1057.2 1870.3 L1061.4 1777.0 L1065.7 1580.5 L1070.1 1724.9 L1074.3 1863.6 L1078.5 1841.6 L1082.7 1831.1 L1087.1 1812.0 L1091.3 1876.1 L1095.5 1880.3 L1099.7 1881.8 L1104.1 1875.5 L1108.3 1943.6 L1112.5 1915.3 L1116.7 1902.8 L1121.1 1944.4 L1125.3 1950.7 L1129.6 1765.7 L1133.8 1968.9 L1138.2 1924.8 L1142.4 1800.9 L1146.6 1810.1 L1150.8 1879.9 L1155.2 1778.5 L1159.4 1944.9 L1163.6 1936.3 L1167.8 1931.5 L1172.2 1945.9 L1176.4 1962.7 L1180.6 1930.0 L1184.8 1936.9 L1189.2 1937.7 L1193.5 1886.2 L1197.7 1926.8 L1201.9 1923.9 L1206.3 1901.9 L1210.5 1922.0 L1214.7 1864.0 L1218.9 1884.7 L1223.3 1940.5 L1227.5 1909.5 L1231.6 1821.9 L1236.0 1898.1 L1240.2 1966.0 L1244.4 1948.8 L1248.6 1954.5 L1253.0 1848.7 L1257.3 1930.6 L1261.5 1909.5 L1265.7 1932.1 L1269.9 1930.2 L1274.3 1886.2 L1278.5 1902.3 L1282.7 1902.3 L1286.9 1922.9 L1291.3 1871.3 L1295.5 1859.8 L1299.7 1839.7 L1304.0 1468.7 L1308.3 1598.3 L1312.6 1894.2 L1316.8 1943.0 L1321.0 1929.6 L1325.4 1922.0 L1329.6 1944.0 L1333.8 1882.4 L1338.0 1942.1 L1342.4 1969.8 L1346.6 1923.9 L1350.8 1951.2 L1355.0 1894.2 L1359.4 1902.3 L1363.6 1897.1 L1367.8 1902.8 L1372.1 1965.4 L1376.5 1978.8 L1380.7 1953.5 L1384.9 1952.6 L1389.1 1973.1 L1393.5 1955.5 L1397.7 1920.1 L1401.9 1913.0 L1406.1 1929.6 L1410.5 1963.7 L1414.7 1925.8 L1418.9 1963.1 L1423.1 1982.8 L1427.5 1903.8 L1431.7 1964.1 L1436.0 1832.1 L1440.2 1972.3 L1444.6 1981.9 L1448.8 1961.6 L1453.0 1953.9 L1457.2 1954.5 L1461.6 1974.6 L1465.8 1976.1 L1470.0 1944.9 L1474.2 1949.7 L1478.6 1959.7 L1482.8 1961.6 L1487.0 1935.4 L1491.2 1972.3 L1495.7 1963.1 L1499.9 1970.8 L1504.1 1945.9 L1508.3 1973.6 L1512.7 1965.0 L1516.9 1975.5 L1521.1 1985.7 L1525.3 1977.5 L1529.7 1970.8 L1533.9 1976.5 L1538.1 1979.4 L1542.3 1984.2 L1546.7 1976.9 L1550.9 1982.6 L1555.2 1975.5 L1559.4 1971.3 L1563.8 1968.5 L1568.0 1946.5 L1572.2 1962.7 L1576.4 1959.7 L1580.8 1956.0 L1585.0 1821.5 L1589.2 1776.6 L1593.4 1896.1 L1597.8 1921.4 L1602.0 1946.8 L1606.2 1907.2 L1610.4 1957.9 L1614.8 1896.1 L1619.1 1941.1 L1623.3 1812.3 L1627.5 1856.0 L1631.9 1884.3 L1636.1 1789.0 L1640.3 1767.6 L1644.5 1893.3 L1648.9 1922.9 L1653.1 1917.2 L1657.3 1935.4 L1661.6 1956.4 L1665.8 1843.0 L1670.0 1952.6 L1674.2 1965.0 L1678.6 1946.8 L1682.9 1983.8 L1687.1 1940.2 L1691.3 1986.5 L1695.5 1976.9 L1699.9 1944.0 L1704.1 1976.5 L1708.3 1950.1 L1712.5 1988.9 L1716.9 1860.8 L1721.1 1912.4 L1725.3 1922.0 L1729.5 1839.7 L1733.9 1962.2 L1738.2 1942.1 L1742.4 1934.8 L1746.6 1888.5 L1751.0 1943.0 L1755.2 1962.2 L1759.4 1976.5 L1763.6 1967.3 L1768.0 1944.9 L1772.2 1951.6 L1776.4 1964.1 L1780.6 1984.5 L1785.0 1974.2 L1789.2 1977.5 L1793.4 1950.7 L1797.7 1916.2 L1802.1 1967.9 L1806.3 1947.8 L1810.5 1978.4 L1814.7 1933.5 L1819.1 1931.0 L1823.3 1909.5 L1827.5 1965.4 L1831.7 1944.0 L1836.1 1911.5 L1840.3 1810.4 L1844.5 1856.0 L1848.7 1892.3 L1853.1 1909.5 L1857.3 1799.5 L1861.6 1866.5 L1865.9 1567.4 L1870.2 1764.1 L1874.4 1868.4 L1878.6 1922.0 L1882.8 1934.4 L1887.2 1951.2 L1891.4 1957.4 L1895.6 1945.9 L1899.8 1936.7 L1904.2 1936.3 L1908.4 1942.1 L1912.6 1892.7 L1916.8 1927.7 L1921.2 1956.4 L1925.5 1950.7 L1929.7 1955.1 L1933.9 1965.0 L1938.3 1960.2 L1942.5 1969.2 L1946.7 1977.5 L1950.9 1954.5 L1955.3 1787.5 L1959.5 1965.4 L1963.7 1974.6 L1967.9 1950.1 L1972.3 1958.9 L1976.5 1971.7 L1980.8 1978.0 L1985.0 1968.9 L1989.4 1969.8 L1993.6 1993.7 L1997.8 1952.6 L2002.0 1939.2 L2006.4 1973.1 L2010.6 1981.9 L2014.8 1955.5 L2019.0 1978.8 L2023.4 1969.8 L2027.6 1985.1 L2031.8 1984.2 L2036.0 1981.3 L2040.4 1949.7 L2044.7 1962.2 L2048.9 1973.6 L2053.1 1994.7 L2057.5 1981.9 L2061.7 1976.9 L2065.9 1966.6 L2070.1 1990.5 L2074.5 1984.2 L2078.7 1969.4 L2082.9 1980.3 L2087.1 1946.8 L2091.4 1957.4 L2095.6 1967.3 L2099.8 1990.9 L2104.1 1951.6 L2108.5 1975.5 L2112.7 1982.2 L2116.9 1964.1 L2121.1 1982.2 L2125.3 1928.3 L2129.7 1918.7 L2133.9 1967.9 L2138.1 1928.7 L2142.3 1900.9 L2146.7 1785.6 L2150.9 1898.1 L2155.1 1967.9 L2159.3 1972.7 L2163.8 1975.5 L2168.0 1916.2 L2172.2 1969.2 L2176.4 1985.7 L2180.8 1980.7 L2185.0 1971.1 L2189.2 1976.9 L2193.4 1979.9 L2197.8 1988.0 L2202.0 1978.8 L2206.2 1993.3 L2210.4 1966.9 L2214.8 1978.8 L2219.0 1958.9 L2223.3 1979.4 L2227.5 1974.2 L2231.9 1977.5 L2236.1 1990.9 L2240.3 1971.7 L2244.5 1983.2 L2248.9 1992.2 L2253.1 1988.9 L2257.3 1978.0 L2261.5 1972.3 L2265.9 1984.2 L2270.1 1977.5 L2274.3 1995.6 L2278.5 1968.5 L2282.9 1976.5 L2287.2 1971.7 L2291.4 1988.9 L2295.6 1984.2 L2300.0 1978.8 L2304.2 1994.1 L2308.4 1993.3 L2312.6 1987.0 L2317.0 1982.2 L2321.2 1962.2 L2325.4 1990.3 L2329.6 1981.3 L2334.0 1997.6 L2338.2 1984.2 L2342.4 1995.6 L2346.7 1983.2 L2351.1 1996.6 L2355.3 2001.0 L2359.5 1991.4 L2363.7 1966.0 L2368.1 1947.8 L2372.3 1994.1 L2376.5 1984.2 L2380.7 1950.1 L2385.1 1992.2 L2389.3 1981.9 L2393.5 1989.5 L2397.7 1988.0 L2402.1 1979.9 L2406.4 1971.1 L2410.6 1964.1 L2414.8 1979.9 L2419.2 1953.2 L2423.4 1964.6 L2427.6 1856.0 L2431.9 1168.0 L2436.2 1721.7 L2440.4 1844.9 L2444.6 1779.1 L2448.8 1881.2 L2453.2 1758.8 L2457.4 1861.7 L2461.6 1843.0 L2465.9 1900.4 L2470.3 1882.8 L2474.5 1897.7 L2478.7 1922.9 L2482.9 1886.2 L2487.3 1846.8 L2491.5 1927.7 L2495.7 1900.9 L2499.9 1915.3 L2504.3 1897.1 L2508.5 1930.2 L2512.7 1968.5 L2516.9 1922.0 L2521.2 1979.4 L2525.4 1944.9 L2529.7 1943.0 L2533.9 1931.5 L2538.3 1914.9 L2542.5 1836.8 L2546.7 1795.1 L2550.9 1911.8 L2555.1 1917.6 L2559.5 1780.4 L2563.7 1888.9 L2567.9 1929.1 L2572.1 1901.5 L2576.5 1911.8 L2580.7 1855.0 L2584.9 1954.5 L2589.2 1940.2 L2593.6 1980.7 L2597.8 1900.9 L2602.0 1902.3 L2606.2 1952.2 L2610.6 1935.4 L2614.8 1860.8 L2619.0 1922.0 L2623.2 1953.5 L2627.6 1975.0 L2631.8 1956.4 L2636.0 1949.7 L2640.2 1954.1 L2644.6 1940.5 L2648.9 1962.2 L2653.1 1929.1 L2657.3 1960.2 L2661.7 1878.0 L2665.9 1949.3 L2670.1 1877.4 L2674.3 1850.2 L2678.7 1913.0 L2682.9 1869.0 L2687.1 1927.7 L2691.3 1902.8 L2695.7 1875.1 L2699.9 1840.3 L2704.1 1849.8 L2708.5 1606.1 L2712.8 1612.6 L2717.0 1713.2 L2721.2 1843.0 L2725.4 1904.2 L2729.8 1875.5 L2734.0 1788.6 L2738.2 1802.0 L2742.4 1900.9 L2746.8 1944.4 L2751.0 1885.1 L2755.2 1908.0 L2759.4 1909.5 L2763.8 1848.3 L2768.0 1973.1 L2772.3 1928.7 L2776.5 1953.9 L2780.9 1983.2 L2785.1 1984.5 L2789.3 1946.8 L2793.5 1952.2 L2797.9 1955.5 L2802.1 1968.9 L2806.3 1931.5 L2810.5 1982.2 L2814.9 1983.8 L2819.1 1983.8 L2823.3 1948.2 L2827.6 1957.0 L2832.0 1976.5 L2836.2 1972.1 L2840.4 1859.8 L2844.6 1961.2 L2849.0 1934.4 L2853.2 1988.4 L2857.4 1944.9 L2861.6 1962.5 L2866.0 1944.0 L2870.2 1985.7 L2874.4 1979.4 L2878.6 1960.2 L2883.0 1938.6 L2887.2 1931.0 L2891.5 1919.1 L2895.7 1960.2 L2900.1 1967.3 L2904.3 1964.1 L2908.5 1941.1 L2912.7 1983.8 L2917.1 1979.4 L2921.3 1944.9 L2925.5 1903.4 L2929.7 1872.2 L2934.1 1957.4 L2938.3 1962.2 L2942.5 1994.7 L2946.7 1969.2 L2951.0 1973.6 L2955.3 1978.0 L2959.5 1960.2 L2963.8 1938.2" stroke="#00008b"/>
<path d="M2968.1 1952.6 L2972.3 1921.0 L2976.5 1907.6 L2980.7 1889.5 L2984.9 1893.3 L2989.3 1648.2 L2993.5 1655.3 L2997.7 1854.1 L3001.9 1855.0 L3006.3 1880.8 L3010.5 1884.7 L3014.8 1891.9 L3019.0 1890.0 L3023.4 1900.0 L3027.6 1927.1 L3031.8 1921.0 L3036.0 1931.5 L3040.4 1927.7 L3044.6 1909.5 L3048.8 1932.5 L3053.0 1932.1 L3057.4 1925.2 L3061.6 1949.3 L3065.8 1951.2" stroke="#ff0000"/>
</g>
<rect x="237.0" y="762.9" width="658.8" height="234.0" rx="10" ry="10" fill="#fff" fill-opacity="0.8" stroke="#cccccc" stroke-opacity="0.8" stroke-width="4.17"/>
<rect x="254.95" y="800.81" width="104.1" height="4.17" fill="#add8e6"/>
<text font-family="Liberation Sans, sans-serif" font-size="52.00" transform="translate(397.21,821.10) scale(1.0594,1)" >Full Ground Truth</text>
<rect x="254.95" y="873.81" width="104.1" height="4.17" fill="#00008b"/>
<text font-family="Liberation Sans, sans-serif" font-size="52.00" transform="translate(396.46,894.10) scale(1.0996,1)" >Input for Prediction</text>
<rect x="254.95" y="946.81" width="104.1" height="4.17" fill="#ff0000"/>
<text font-family="Liberation Sans, sans-serif" font-size="52.00" transform="translate(398.20,967.10) scale(1.0731,1)" >Prediction</text>
<rect x="237.0" y="1151.9" width="658.8" height="234.0" rx="10" ry="10" fill="#fff" fill-opacity="0.8" stroke="#cccccc" stroke-opacity="0.8" stroke-width="4.17"/>
<rect x="254.95" y="1189.82" width="104.1" height="4.17" fill="#add8e6"/>
<text font-family="Liberation Sans, sans-serif" font-size="52.00" transform="translate(397.31,1211.20) scale(1.0594,1)" >Full Ground Truth</text>
<rect x="254.95" y="1262.82" width="104.1" height="4.17" fill="#00008b"/>
<text font-family="Liberation Sans, sans-serif" font-size="52.00" transform="translate(396.56,1284.20) scale(1.0996,1)" >Input for Prediction</text>
<rect x="254.95" y="1335.82" width="104.1" height="4.17" fill="#ff0000"/>
<text font-family="Liberation Sans, sans-serif" font-size="52.00" transform="translate(398.30,1357.20) scale(1.0731,1)" >Prediction</text>
<rect x="212.6" y="107.4" width="3328.8" height="914.8000000000001" fill="none" stroke="#000" stroke-width="3.33"/>
<line x1="364.6" x2="364.6" y1="1022.2" y2="1036.8" stroke="#000" stroke-width="3.33"/>
<rect x="212.6" y="1127.3" width="3328.8" height="914.5" fill="none" stroke="#000" stroke-width="3.33"/>
<line x1="364.6" x2="364.6" y1="2041.8" y2="2056.4" stroke="#000" stroke-width="3.33"/>
<line x1="197.40" x2="212.6" y1="909.70" y2="909.70" stroke="#000" stroke-width="3.33"/>
<text font-family="Liberation Sans, sans-serif" font-size="45.20" transform="translate(104.79,926.20) scale(1.0321,1)" >230</text>
<line x1="197.40" x2="212.6" y1="771.08" y2="771.08" stroke="#000" stroke-width="3.33"/>
<text font-family="Liberation Sans, sans-serif" font-size="45.20" transform="translate(104.80,787.58) scale(1.0258,1)" >235</text>
<line x1="197.40" x2="212.6" y1="632.46" y2="632.46" stroke="#000" stroke-width="3.33"/>
<text font-family="Liberation Sans, sans-serif" font-size="45.20" transform="translate(104.79,648.96) scale(1.0321,1)" >240</text>
<line x1="197.40" x2="212.6" y1="493.84" y2="493.84" stroke="#000" stroke-width="3.33"/>
<text font-family="Liberation Sans, sans-serif" font-size="45.20" transform="translate(104.80,510.34) scale(1.0258,1)" >245</text>
<line x1="197.40" x2="212.6" y1="355.22" y2="355.22" stroke="#000" stroke-width="3.33"/>
<text font-family="Liberation Sans, sans-serif" font-size="45.20" transform="translate(104.79,371.72) scale(1.0321,1)" >250</text>
<line x1="197.40" x2="212.6" y1="216.60" y2="216.60" stroke="#000" stroke-width="3.33"/>
<text font-family="Liberation Sans, sans-serif" font-size="45.20" transform="translate(104.80,233.10) scale(1.0258,1)" >255</text>
<line x1="197.40" x2="212.6" y1="2005.70" y2="2005.70" stroke="#000" stroke-width="3.33"/>
<text font-family="Liberation Sans, sans-serif" font-size="45.20" transform="translate(158.08,2022.20) scale(0.9728,1)" >0</text>
<line x1="197.40" x2="212.6" y1="1824.14" y2="1824.14" stroke="#000" stroke-width="3.33"/>
<text font-family="Liberation Sans, sans-serif" font-size="45.20" transform="translate(158.53,1840.64) scale(0.9252,1)" >1</text>
<line x1="197.40" x2="212.6" y1="1642.58" y2="1642.58" stroke="#000" stroke-width="3.33"/>
<text font-family="Liberation Sans, sans-serif" font-size="45.20" transform="translate(158.02,1659.08) scale(0.9378,1)" >2</text>
<line x1="197.40" x2="212.6" y1="1461.02" y2="1461.02" stroke="#000" stroke-width="3.33"/>
<text font-family="Liberation Sans, sans-serif" font-size="45.20" transform="translate(158.67,1477.52) scale(0.9410,1)" >3</text>
<line x1="197.40" x2="212.6" y1="1279.46" y2="1279.46" stroke="#000" stroke-width="3.33"/>
<text font-family="Liberation Sans, sans-serif" font-size="45.20" transform="translate(158.14,1295.96) scale(0.9715,1)" >4</text>
<text font-family="Liberation Sans, sans-serif" font-size="45.20" transform="translate(213.54,1114.20) scale(1.0206,1)" >1e6</text>
<text font-family="Liberation Sans, sans-serif" font-size="71.56" transform="translate(1712.10,82.08) scale(1.0327,1)" >Prediction</text>
<text font-family="Liberation Sans, sans-serif" font-size="61.77" transform="translate(1804.63,2333.18) scale(1.0577,1)" >Time</text>
<text font-family="Liberation Sans, sans-serif" font-size="63.27" transform="rotate(-90,52.35,565.95) translate(-107.83,588.57) scale(0.9890,1)" >Close Price</text>
<text font-family="Liberation Sans, sans-serif" font-size="62.04" transform="rotate(-90,105.10,1587.15) translate(-1.37,1609.33) scale(1.0409,1)" >Volume</text>
<text font-family="Liberation Sans, sans-serif" font-size="44.6" transform="translate(188.25,2265.85) rotate(-45) scale(1.0550,1) translate(-2.23,0)">2020-07-09</text>
</svg>
</body></html>
